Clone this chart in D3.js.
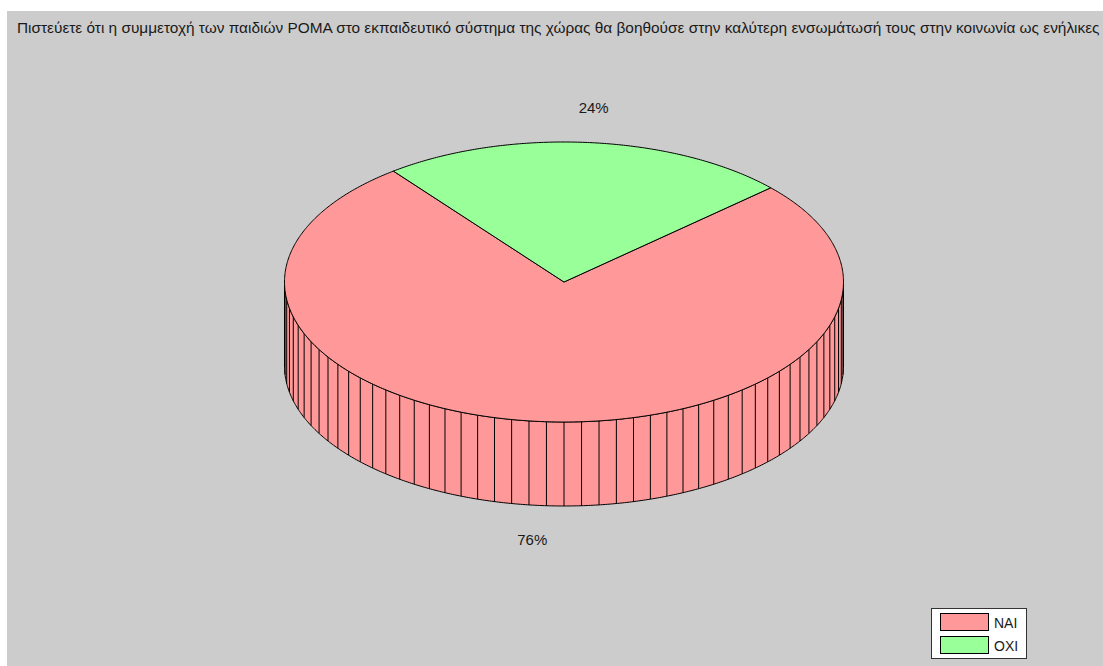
<!DOCTYPE html>
<html>
<head>
<meta charset="utf-8">
<script src="https://cdn.jsdelivr.net/npm/d3@7"></script>
<style>
  html, body { margin: 0; padding: 0; background: #fff; overflow: hidden; }
  text { font-family: "Liberation Sans", Arial, sans-serif; fill: #1a1a1a; }
</style>
</head>
<body>
<svg id="chart" width="1103" height="666"></svg>
<script>
const TITLE = "Πιστεύετε ότι η συμμετοχή των παιδιών ΡΟΜΑ στο εκπαιδευτικό σύστημα της χώρας θα βοηθούσε στην καλύτερη ενσωμάτωσή τους στην κοινωνία ως ενήλικες";
const categories = ["ΝΑΙ", "ΟΧΙ"];
const values = [76.3, 23.7]; // shown rounded, split
const colors = ["#ff9999", "#99ff99"];

const width = 1103, height = 666;
const cx = 564, cy = 282, rx = 279.5, ry = 140, depth = 84;
const startDeg = 47.7;
const stepDeg = 3.6; // one side rib per percent

const svg = d3.select("#chart");
const rad = (d) => (d * Math.PI) / 180;

// unit circle -> squashed screen ellipse, angle 0 at the top, clockwise
const sx = d3.scaleLinear().domain([-1, 1]).range([cx - rx, cx + rx]);
const sy = d3.scaleLinear().domain([-1, 1]).range([cy - ry, cy + ry]);
const px = (a) => sx(Math.sin(a));
const py = (a) => sy(-Math.cos(a));

const arcs = d3
  .pie()
  .sort(null)
  .startAngle(rad(startDeg))
  .endAngle(rad(startDeg + 360))(values);

function arcPoints(a0, a1) {
  const n = Math.max(2, Math.ceil((a1 - a0) / rad(0.5)));
  return d3.range(n + 1).map((i) => a0 + ((a1 - a0) * i) / n);
}

svg.append("rect")
  .attr("x", 7).attr("y", 11)
  .attr("width", width - 7).attr("height", height - 11)
  .attr("fill", "#cccccc");

svg.append("text")
  .attr("x", 17).attr("y", 33)
  .attr("font-size", 15.4)
  .text(TITLE);

// side wall, only the front half of the disc shows
const frontFrom = rad(90), frontTo = rad(270);
const walls = [];
arcs.forEach((d, i) => {
  [0, 2 * Math.PI].forEach((turn) => {
    const a0 = Math.max(d.startAngle - turn, frontFrom);
    const a1 = Math.min(d.endAngle - turn, frontTo);
    if (a1 > a0) walls.push({ a0, a1, i });
  });
});

const line = d3.line();
walls.forEach((w) => {
  const top = arcPoints(w.a0, w.a1).map((a) => [px(a), py(a)]);
  const bottom = top.slice().reverse().map((p) => [p[0], p[1] + depth]);
  svg.append("path")
    .attr("d", line(top.concat(bottom)) + "Z")
    .attr("fill", colors[w.i])
    .attr("stroke", "#000")
    .attr("stroke-width", 1);

  // ribs sit on whole multiples of the step, one lands dead centre at the bottom
  const first = Math.ceil((w.a0 * 180) / Math.PI / stepDeg);
  const last = Math.floor((w.a1 * 180) / Math.PI / stepDeg);
  const ribs = d3.range(first, last + 1).map((k) => rad(k * stepDeg));
  svg.append("g")
    .selectAll("line")
    .data(ribs)
    .join("line")
    .attr("x1", (a) => px(a)).attr("x2", (a) => px(a))
    .attr("y1", (a) => py(a)).attr("y2", (a) => py(a) + depth)
    .attr("stroke", "#000")
    .attr("stroke-width", 1);
});

// top face
arcs.forEach((d, i) => {
  const pts = arcPoints(d.startAngle, d.endAngle).map((a) => [px(a), py(a)]);
  svg.append("path")
    .attr("d", line([[cx, cy]].concat(pts)) + "Z")
    .attr("fill", colors[i])
    .attr("stroke", "#000")
    .attr("stroke-width", 1);
});

// percentage labels
const total = d3.sum(values);
svg.append("g")
  .selectAll("text")
  .data(arcs)
  .join("text")
  .attr("text-anchor", "middle")
  .attr("font-size", 15)
  .attr("x", (d) => cx - 1 + rx * 1.25 * Math.sin((d.startAngle + d.endAngle) / 2))
  .attr("y", (d) => {
    const m = (d.startAngle + d.endAngle) / 2;
    const dy = -ry * 1.25 * Math.cos(m);
    return cy + dy + (dy > 0 ? depth : 0) + 5;
  })
  .text((d) => Math.round((d.value / total) * 100) + "%");

// legend
const legend = svg.append("g");
legend.append("rect")
  .attr("x", 931.5).attr("y", 608.5)
  .attr("width", 95).attr("height", 50)
  .attr("fill", "#fff")
  .attr("stroke", "#333");

const rowY = d3.scalePoint().domain(categories).range([613.5, 636.5]);
categories.forEach((name, i) => {
  legend.append("rect")
    .attr("x", 940.5).attr("y", rowY(name))
    .attr("width", 48).attr("height", 17)
    .attr("fill", colors[i])
    .attr("stroke", "#000");
  legend.append("text")
    .attr("x", 994).attr("y", rowY(name) + 14)
    .attr("font-size", 14)
    .text(name);
});
</script>
</body>
</html>
